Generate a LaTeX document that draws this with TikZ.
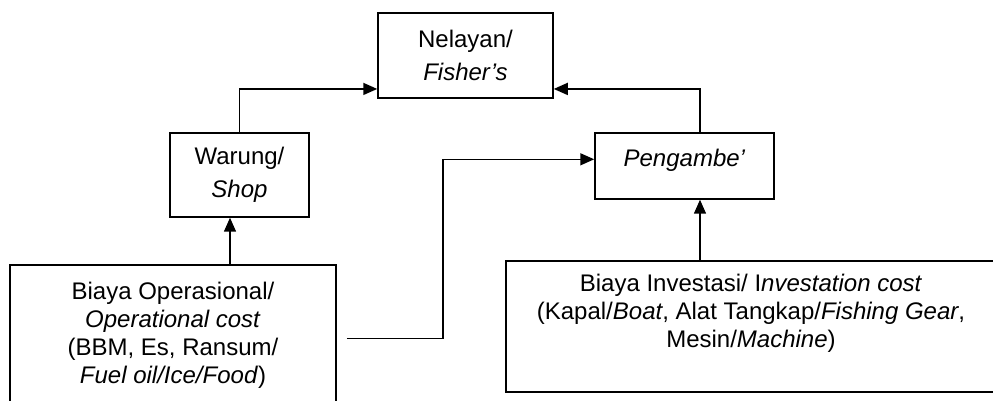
\documentclass[tikz,border=0pt]{standalone}
\usepackage{fontspec}
\setmainfont{Liberation Sans}
\usetikzlibrary{arrows.meta,calc}
\begin{document}
\begin{tikzpicture}[x=0.5pt,y=-0.5pt,line width=0.75pt,>={Triangle[length=7pt,width=6pt]},
    box/.style={draw, rectangle, align=center, inner sep=0pt, font=\fontsize{12}{14}\selectfont},
    wide/.style={font=\fontsize{12}{16.35}\selectfont}]
    \useasboundingbox (0,0) rectangle (993,401);
    \clip (0,0) rectangle (993,401);
    \node (nel) [box, wide, minimum width=87.5pt, minimum height=42.5pt] at (465.5,55.7) {Nelayan/\\\textit{Fisher’s}};
    \node (warung) [box, wide, minimum width=69.5pt, minimum height=42pt] at (239.5,175) {Warung/\\\textit{Shop}};
    \node (peng) [box, minimum width=89.5pt, minimum height=33pt, text depth=8.2pt] at (684.5,166) {\textit{Pengambe’}};
    \node (op) [box, minimum width=163pt, minimum height=70pt] at (173,335) {Biaya Operasional/\\\textit{Operational cost}\\(BBM, Es, Ransum/\\\textit{Fuel oil/Ice/Food})};
    \node (inv) [box, minimum width=245pt, minimum height=65.5pt, text depth=15.5pt] at (751,326.5) {Biaya Investasi/ I\textit{nvestation cost}\\(Kapal/\textit{Boat}, Alat Tangkap/\textit{Fishing Gear},\\Mesin/\textit{Machine})};

    \coordinate (wup) at ($(warung.south)+(-9.5,0)$);
    \coordinate (pup) at ($(peng.south)+(15.5,0)$);
    \coordinate (opout) at ($(op.east)+(10,3.7)$);

    \draw [->] (warung.north) |- ($(nel.south west)+(0,-10)$);
    \draw [->] ($(peng.north)+(15.5,0)$) |- ($(nel.south east)+(0,-10)$);
    \draw [->] (op.north -| wup) -- (wup);
    \draw [->] (inv.north -| pup) -- (pup);
    \draw [->] (opout) -- ++(96,0) |- ($(peng.west)+(0,-6.7)$);
  \end{tikzpicture}
\end{document}
